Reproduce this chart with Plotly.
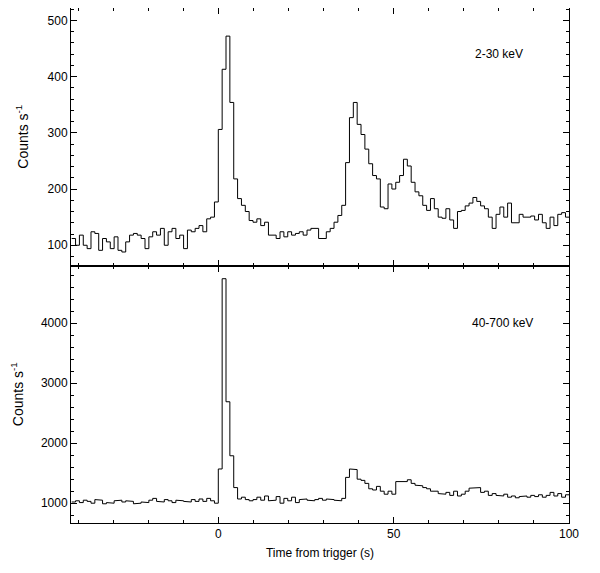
import numpy as np
import plotly.graph_objects as go
from plotly.subplots import make_subplots

bin_width = 1.1
first_bin = -38

soft_counts = [
    112, 100, 118, 100, 94, 124, 121, 91, 112, 106,
    94, 115, 91, 88, 106, 118, 121, 118, 112, 94,
    115, 124, 118, 130, 100, 124, 130, 112, 118, 94,
    127, 124, 130, 135, 124, 147, 150, 177,
    306, 413, 472, 354, 218, 183, 171, 160, 144, 141,
    147, 135, 141, 118, 118, 112, 124, 115, 124, 118,
    121, 124, 118, 127, 130, 130, 112, 112, 124, 130,
    141, 153, 171, 247, 327, 354, 315, 297, 271, 245,
    224, 218, 168, 165, 209, 200, 212, 224, 253, 241,
    212, 195, 188, 171, 162, 183, 165, 150, 148, 165,
    145, 130, 160, 162, 170, 175, 185, 178, 170, 165,
    150, 130, 155, 168, 150, 175, 140, 140, 155, 150,
    150, 152, 145, 155, 140, 130, 150, 135, 155, 158,
    150,
]

hard_counts = [
    1020, 1040, 1010, 1050, 1030, 1000, 1060, 1050, 990, 1010,
    1000, 1040, 1050, 1020, 1040, 1030, 990, 1000, 1020, 1010,
    1050, 1080, 1030, 1020, 1060, 1040, 1010, 1050, 1040, 1030,
    1020, 1060, 1030, 1070, 1030, 1080, 1040, 1000,
    1570, 4740, 2690, 1790, 1260, 1070, 1100, 1060, 1040, 1060,
    1100, 1050, 1120, 1040, 1050, 1110, 1000, 1080, 1040, 1100,
    1010, 1060, 1070, 1050, 1040, 1060, 1080, 1050, 1070, 1060,
    1050, 1040, 1080, 1430, 1570, 1560, 1400, 1380, 1330, 1240,
    1220, 1280, 1200, 1150, 1200, 1150, 1360, 1370, 1360, 1390,
    1330, 1300, 1290, 1260, 1240, 1200, 1200, 1160, 1150, 1180,
    1130, 1200, 1120, 1150, 1200, 1250, 1260, 1260, 1180, 1200,
    1130, 1160, 1130, 1120, 1150, 1100, 1120, 1090, 1110, 1120,
    1100, 1130, 1110, 1140, 1100, 1130, 1180, 1120, 1160, 1100,
    1140,
]


def step_xy(counts):
    edges = (first_bin + np.arange(len(counts) + 1)) * bin_width
    x = np.repeat(edges, 2)[1:-1]
    y = np.repeat(counts, 2)
    return x, y


fig = make_subplots(rows=2, cols=1, shared_xaxes=True, vertical_spacing=0)

for row, counts in [(1, soft_counts), (2, hard_counts)]:
    x, y = step_xy(counts)
    fig.add_trace(go.Scatter(x=x, y=y, mode="lines",
                             line=dict(color="black", width=1)), row=row, col=1)

axis_style = dict(showgrid=False, zeroline=False, ticks="inside", mirror="allticks",
                  showline=True, linecolor="black", linewidth=1, tickcolor="black",
                  ticklen=6, minor=dict(ticks="inside", ticklen=3, tickcolor="black"),
                  tickfont=dict(size=12, color="black"), automargin=False)

fig.update_xaxes(**axis_style, range=[-42, 100], dtick=50, minor_dtick=10)
fig.update_xaxes(title_text="Time from trigger (s)", title_font=dict(size=12),
                 title_standoff=8, row=2, col=1)
fig.update_yaxes(**axis_style)
fig.update_yaxes(range=[64, 522], dtick=100, minor_dtick=20,
                 title_text="Counts s<sup>-1</sup>", row=1, col=1)
fig.update_yaxes(range=[670, 4960], dtick=1000, minor_dtick=200,
                 title_text="Counts s<sup>-1</sup>", row=2, col=1)

fig.update_layout(
    width=600, height=573,
    margin=dict(l=63, r=39, t=0, b=58),
    plot_bgcolor="white", paper_bgcolor="white",
    showlegend=False,
    font=dict(family="Liberation Sans, Arial", color="black", size=12),
    annotations=[
        dict(text="2-30 keV", x=80, y=440, xref="x", yref="y", showarrow=False,
             font=dict(size=12)),
        dict(text="40-700 keV", x=81, y=4000, xref="x2", yref="y2", showarrow=False,
             font=dict(size=12)),
    ],
)

fig.write_html("out.html")
